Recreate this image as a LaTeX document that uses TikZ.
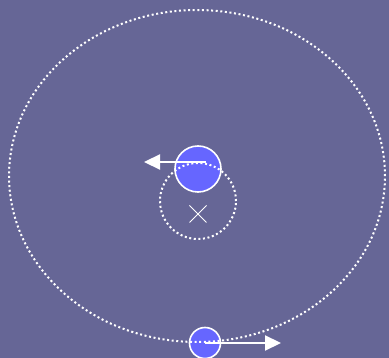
\documentclass[tikz,border=0pt]{standalone}
\usepackage{tikz}
\usetikzlibrary{arrows.meta,shapes.misc}
\definecolor{skybg}{RGB}{102,102,150}
\definecolor{bodyblue}{RGB}{102,102,255}
\tikzset{orbit/.style={white,line width=2pt,dash pattern=on 2pt off 2.6pt},
  body/.style={circle,draw=white,line width=1.6pt,fill=bodyblue,inner sep=0pt},
  vel/.style={white,line width=2.2pt,-{Triangle[length=16pt,width=15pt]}}}

\begin{document}
\begin{tikzpicture}[x=1pt,y=-1pt,>=Stealth,line join=round]
% --- background, fixes the size
\fill[skybg] (0,0) rectangle (389,358);
\useasboundingbox (0,0) rectangle (389,358);
% --- bodies
\node[body,minimum size=46pt] (star) at (198,169) {};
\node[body,minimum size=31pt] (planet) at (205,343) {};
\node[cross out,draw=white,line width=1pt,minimum size=16pt,inner sep=0pt] (com) at (198,214) {};
% --- orbits
\draw[orbit] (197,176) ellipse [x radius=188pt,y radius=166pt];
\draw[orbit] (198,201) circle [radius=38pt];
% --- velocities
\coordinate (vstar) at (144,162);
\coordinate (vplanet) at (281,343);
\draw[vel] ([xshift=8pt,yshift=7pt]star.center) -- (vstar);
\draw[vel] (planet.center) -- (vplanet);
\end{tikzpicture}
\end{document}
